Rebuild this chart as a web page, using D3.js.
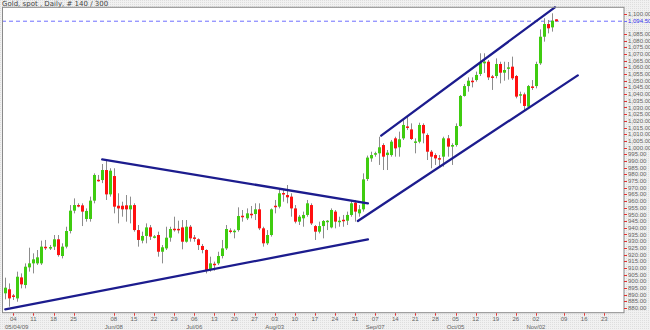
<!DOCTYPE html>
<html><head><meta charset="utf-8">
<script src="https://cdn.jsdelivr.net/npm/d3@7"></script>
<style>body{margin:0;background:#fff}svg{display:block}</style>
</head><body><svg id="c" width="650" height="330"></svg>
<script>
const title = "Gold, spot , Daily, # 140 / 300";
const startDate = "2009-04-30";
const open = [891.0,894.0,889.4,887.2,902.9,897.2,910.4,913.4,913.4,913.4,925.8,925.3,925.9,931.4,918.9,925.9,937.6,952.8,957.0,956.8,
946.6,946.6,960.3,975.9,975.7,983.2,965.0,978.7,956.5,956.5,956.8,953.8,957.0,938.3,930.4,933.9,940.3,933.3,934.6,922.1,
924.6,932.6,939.3,939.2,940.3,929.6,940.8,932.8,931.4,926.4,923.4,908.4,913.1,913.4,
918.9,924.6,938.0,937.4,938.3,949.0,947.1,950.5,950.3,953.8,939.6,928.4,934.6,956.5,955.8,966.0,964.5,963.3,954.5,944.6,
947.1,949.6,957.0,941.3,937.1,941.3,944.9,940.3,952.1,944.9,946.0,945.3,949.6,958.8,950.8,953.8,
976.5,991.9,995.5,995.7,1001.9,994.4,994.4,1006.9,1000.2,1006.9,1015.8,1013.6,1004.3,1004.4,1016.9,1009.4,996.9,994.4,992.1,993.2,
1006.9,1000.7,1001.9,1016.1,1038.6,1046.0,1050.0,1050.5,1055.0,1063.0,1064.2,1053.2,1053.5,1062.5,1056.0,1059.5,1060.5,1053.5,1039.6,1039.8,
1030.6,1045.7,1046.0,1063.0,1082.9,1092.4,1089.9,1095.9];
const high = [902.7,898.4,890.5,907.2,905.9,913.4,925.1,920.9,923.4,930.4,930.9,927.1,934.6,934.6,928.4,940.8,957.0,962.0,958.3,958.3,
954.5,963.3,980.7,979.5,987.7,991.2,984.5,984.5,965.8,959.5,964.5,963.3,958.3,942.1,937.1,943.3,942.1,934.6,937.1,927.1,
940.8,940.8,948.3,945.3,945.8,945.8,942.1,934.6,932.1,927.9,923.9,918.4,914.7,922.1,
930.9,942.1,939.6,938.8,955.3,953.3,954.5,956.3,958.3,958.3,940.8,938.3,954.5,960.8,968.8,968.8,972.0,965.8,957.0,949.6,
952.1,960.8,958.3,942.1,944.6,945.8,945.8,954.5,953.3,948.3,949.6,952.1,960.8,960.8,957.0,980.7,
994.0,996.9,996.9,1008.1,1003.2,998.2,1005.7,1008.1,1011.9,1020.6,1023.1,1018.1,1006.9,1018.6,1018.1,1010.6,998.2,995.7,994.4,1008.1,
1009.4,1003.2,1018.1,1039.3,1047.5,1052.5,1052.5,1056.8,1070.5,1070.5,1065.5,1054.3,1066.7,1064.2,1064.2,1064.0,1068.0,1054.3,1041.8,1041.1,
1046.8,1050.5,1064.2,1088.4,1096.7,1095.4,1100.4,1096.0];
const low = [886.5,881.0,886.0,884.7,894.7,894.7,907.2,905.9,912.2,912.2,923.4,923.4,923.4,918.4,917.1,924.6,935.8,950.8,955.3,941.3,
944.6,944.6,958.3,974.5,973.4,960.8,963.3,950.8,943.3,948.3,944.6,943.3,937.1,925.9,928.4,928.4,930.9,932.1,918.4,913.4,
923.4,929.6,937.1,935.8,923.9,928.9,929.6,929.6,923.4,920.9,905.9,907.2,907.9,912.2,
917.1,923.4,935.8,932.1,937.1,944.6,945.8,947.1,945.8,938.3,925.9,927.1,933.4,950.8,954.5,959.5,958.3,948.3,943.3,942.1,
940.8,948.3,942.1,930.9,935.8,932.1,938.3,939.6,939.6,940.8,940.8,942.1,948.3,944.6,948.3,952.1,
975.0,989.4,993.2,987.0,983.2,983.2,993.2,993.2,993.2,1005.7,1013.1,1005.7,995.7,1003.2,1003.2,990.7,984.5,987.0,985.7,985.7,
993.2,987.0,1000.7,1015.6,1038.1,1041.8,1045.0,1049.3,1053.5,1055.8,1050.5,1043.1,1051.8,1048.0,1050.0,1050.8,1050.5,1036.8,1033.1,1028.1,
1029.3,1043.1,1044.3,1061.8,1079.2,1085.4,1086.7,1094.2];
const close = [895.2,887.2,889.0,903.4,897.7,910.9,913.4,916.4,917.9,925.9,925.4,925.6,931.4,919.6,925.9,937.6,952.8,957.0,956.6,952.1,
952.6,960.3,979.5,975.5,983.2,965.0,982.7,955.8,954.5,953.8,953.8,956.8,938.3,930.9,933.9,940.3,933.4,933.6,922.1,925.4,
932.6,939.1,938.9,938.8,929.6,940.8,932.1,932.4,927.1,923.4,908.4,913.4,912.7,918.9,
924.6,939.1,937.6,937.8,948.8,948.6,950.8,950.1,953.8,939.6,928.4,934.6,953.8,956.1,965.8,965.6,962.8,954.5,944.6,948.3,
949.6,958.3,943.3,937.1,941.3,945.1,945.3,953.3,944.6,945.3,945.6,949.6,958.3,952.1,953.8,976.2,
992.5,994.4,995.8,1000.2,993.2,996.2,1004.4,999.4,1006.2,1016.9,1015.4,1006.4,1004.6,1016.9,1010.6,996.9,993.2,991.9,991.7,1006.9,
1000.7,1001.9,1016.1,1038.6,1046.0,1050.0,1049.6,1054.3,1063.5,1064.3,1052.5,1052.8,1062.5,1056.0,1058.0,1060.0,1051.8,1038.1,1039.9,1031.1,
1046.0,1045.3,1062.5,1082.9,1092.4,1089.2,1094.9,1094.5];
const lastPrice = 1094.5;
const yTickValues = d3.range(880, 1086, 5).concat([1100]);
const xTickDates = ["2009-05-04","2009-05-11","2009-05-18","2009-05-25","2009-06-08","2009-06-15","2009-06-22","2009-06-29",
"2009-07-06","2009-07-13","2009-07-20","2009-07-27","2009-08-03","2009-08-10","2009-08-17","2009-08-24","2009-08-31",
"2009-09-07","2009-09-14","2009-09-21","2009-09-28","2009-10-05","2009-10-12","2009-10-19","2009-10-26","2009-11-02",
"2009-11-09","2009-11-16","2009-11-23"];
const monthLabels = ["05/04/09","Jun/08","Jul/06","Aug/03","Sep/07","Oct/05","Nov/02"];
const monthDates = ["2009-05-04","2009-06-08","2009-07-06","2009-08-03","2009-09-07","2009-10-05","2009-11-02"];
// trend lines: bar slot / price pairs
const trendStartSlot = [0, 24.1, 93.5, 87.7];
const trendStartPrice = [879.0, 991.2, 1008.9, 945.1];
const trendEndSlot = [90.2, 90.2, 136.7, 142.4];
const trendEndPrice = [931.4, 958.3, 1104.9, 1054.0];

// ---------- build ----------
const parse = d3.utcParse("%Y-%m-%d");
const start = parse(startDate);
const n = close.length;
const dates = [];
{ let d = new Date(start); while (dates.length < n) { const wd = d.getUTCDay(); if (wd !== 0 && wd !== 6) dates.push(new Date(d)); d = d3.utcDay.offset(d, 1); } }
const lastDate = dates[n - 1];
const futureGap = 2;
function slotOf(dateStr) {
  const d = parse(dateStr);
  let s = d3.utcDay.count(start, d);
  const weeks = Math.floor(s / 7), rem = s % 7;
  let wd = start.getUTCDay(), extra = 0;
  for (let k = 0; k < rem; k++) { const w = (wd + k) % 7; if (w !== 0 && w !== 6) extra++; }
  let slot = weeks * 5 + extra;
  if (d >= lastDate) slot += futureGap;
  return slot;
}

const W = 650, H = 330;
const L = 2, R = 624, T = 7.3, B = 312.7;
const svg = d3.select("#c");
const defs = svg.append("defs");
const pat = defs.append("pattern").attr("id","dots").attr("width",2).attr("height",2).attr("patternUnits","userSpaceOnUse");
pat.append("rect").attr("width",2).attr("height",2).attr("fill","#f1f1f1");
pat.append("rect").attr("width",1).attr("height",1).attr("fill","#dedede");
svg.append("rect").attr("width",W).attr("height",H).attr("fill","url(#dots)");

const x = d3.scaleLinear().domain([-0.82, 153.9]).range([L, R]);
const y = d3.scaleLinear().domain([876.5, 1104.9]).range([B, T]);

svg.append("rect").attr("x",L).attr("y",T).attr("width",R-L).attr("height",B-T).attr("fill","#fff");

const font = "'Liberation Sans', Arial, sans-serif";
svg.append("text").attr("x",2).attr("y",5.5).attr("font-family","'DejaVu Sans', Verdana, sans-serif").attr("font-size",7).attr("fill","#444").text(title);

// last price dashed line
svg.append("line").attr("x1",L).attr("x2",R).attr("y1",y(lastPrice)).attr("y2",y(lastPrice))
  .attr("stroke","#6f6fff").attr("stroke-width",1).attr("stroke-dasharray","4,3");

// candles
const g = svg.append("g");
const idx = d3.range(n);
g.selectAll("line.w").data(idx).join("line").attr("class","w")
  .attr("x1",i=>Math.round(x(i))+0.5).attr("x2",i=>Math.round(x(i))+0.5)
  .attr("y1",i=>y(high[i])).attr("y2",i=>y(low[i])).attr("stroke","#8c8c8c").attr("stroke-width",1);
g.selectAll("rect.b").data(idx).join("rect").attr("class","b")
  .attr("x",i=>Math.round(x(i))-1).attr("width",3)
  .attr("y",i=>y(Math.max(open[i],close[i])))
  .attr("height",i=>Math.max(1.5, Math.abs(y(open[i])-y(close[i]))))
  .attr("fill",i=>close[i]>=open[i] ? "#3fcc10" : "#ff1010");

// trend lines
g.selectAll("line.t").data(trendStartSlot).join("line").attr("class","t")
  .attr("x1",(d,k)=>x(trendStartSlot[k])).attr("y1",(d,k)=>y(trendStartPrice[k]))
  .attr("x2",(d,k)=>x(trendEndSlot[k])).attr("y2",(d,k)=>y(trendEndPrice[k]))
  .attr("stroke","#1c1c8e").attr("stroke-width",2.3).attr("stroke-linecap","round");

// frame
svg.append("rect").attr("x",L+0.5).attr("y",T).attr("width",R-L-0.5).attr("height",B-T)
  .attr("fill","none").attr("stroke","#8a8a8a").attr("stroke-width",1);

// right axis
const ya = svg.append("g");
ya.selectAll("line").data(yTickValues).join("line")
  .attr("x1",R).attr("x2",R+3).attr("y1",d=>Math.round(y(d))+0.5).attr("y2",d=>Math.round(y(d))+0.5)
  .attr("stroke","#e03030");
const fmt = d3.format(",.2f");
ya.selectAll("text").data(yTickValues).join("text")
  .attr("x",R+4).attr("y",d=>y(d)).attr("dy","0.35em").attr("font-family",font).attr("font-size",6)
  .attr("fill","#666").text(fmt);
ya.append("line").attr("x1",R).attr("x2",R+3).attr("y1",Math.round(y(lastPrice))+0.5).attr("y2",Math.round(y(lastPrice))+0.5).attr("stroke","#6f6fff");
ya.append("text").attr("x",R+4).attr("y",y(lastPrice)).attr("dy","0.35em").attr("font-family",font).attr("font-size",6)
  .attr("fill","#3333ee").text(fmt(lastPrice));

// bottom axis
const xa = svg.append("g");
xa.selectAll("line").data(xTickDates).join("line")
  .attr("x1",d=>Math.round(x(slotOf(d)))+0.5).attr("x2",d=>Math.round(x(slotOf(d)))+0.5)
  .attr("y1",B+0.5).attr("y2",B+3).attr("stroke","#e03030");
xa.selectAll("text.d").data(xTickDates).join("text").attr("class","d")
  .attr("x",d=>x(slotOf(d))).attr("y",320.5).attr("text-anchor","middle")
  .attr("font-family",font).attr("font-size",6).attr("fill","#666").text(d=>d.slice(8,10));
xa.selectAll("text.m").data(monthLabels).join("text").attr("class","m")
  .attr("x",(d,k)=>k===0 ? L+3 : x(slotOf(monthDates[k]))).attr("y",328.5)
  .attr("text-anchor",(d,k)=>k===0?"start":"middle")
  .attr("font-family",font).attr("font-size",6).attr("fill","#666").text(d=>d);
</script></body></html>
